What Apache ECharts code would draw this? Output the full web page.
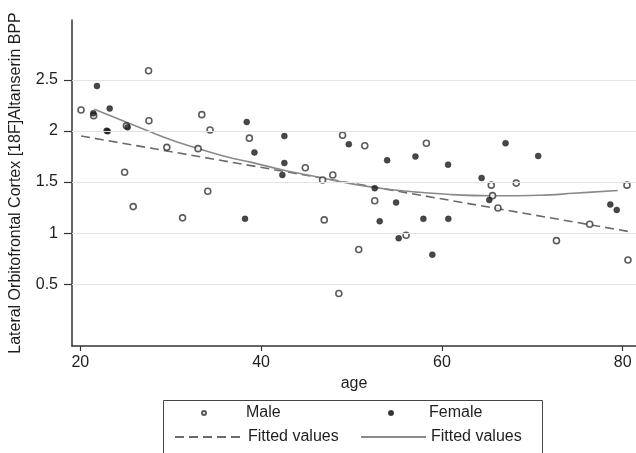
<!DOCTYPE html>
<html>
<head>
<meta charset="utf-8">
<script src="https://cdn.jsdelivr.net/npm/echarts@6/dist/echarts.min.js"></script>
<style>html,body{margin:0;padding:0;background:#fff;}#c{width:636px;height:453px;}</style>
</head>
<body>
<div id="c"></div>
<script>
// ---- data ----
const maleAge = [20.08,21.48,25.1,27.55,27.59,24.90,29.57,33.03,33.44,34.35,34.10,38.70,25.85,31.31,44.89,46.80,47.93,49.01,51.47,58.28,52.57,46.98,56.04,50.80,48.60,65.46,68.22,80.47,65.60,66.20,76.35,72.67,80.58];
const maleBPP = [2.205,2.15,2.05,2.59,2.10,1.596,1.84,1.827,2.16,2.01,1.41,1.93,1.26,1.15,1.64,1.52,1.57,1.958,1.856,1.88,1.318,1.13,0.98,0.84,0.41,1.47,1.49,1.47,1.367,1.247,1.087,0.927,0.738];
const femaleAge = [21.84,21.44,23.25,22.91,23.03,25.23,38.41,39.26,38.22,42.57,42.57,42.35,49.70,53.94,52.57,57.07,60.68,54.93,53.12,57.95,60.71,55.22,58.94,67.04,70.65,64.39,65.24,78.63,79.34];
const femaleBPP = [2.44,2.173,2.22,2.003,1.997,2.036,2.088,1.79,1.14,1.95,1.687,1.57,1.87,1.713,1.44,1.75,1.67,1.30,1.116,1.14,1.14,0.95,0.79,1.88,1.755,1.54,1.325,1.28,1.227];
const linFitAge = [20.08,80.62];
const linFitBPP = [1.951,1.017];
const quadFitAge = [21.55,27.44,30.01,32.96,36.27,38.85,42.52,46.21,49.89,53.57,57.25,60.93,65.35,70.87,74.54,79.45];
const quadFitBPP = [2.212,2.003,1.915,1.83,1.745,1.695,1.615,1.55,1.485,1.435,1.402,1.378,1.366,1.371,1.39,1.418];
const xTicks = [20,40,60,80];
const yTicks = [0.5,1,1.5,2,2.5];

const zip = (a,b)=>a.map((v,i)=>[v,b[i]]);
const FONT = '"Liberation Sans", Arial, sans-serif';
const TXT = '#1e1e1e';
const FS = 16;

const chart = echarts.init(document.getElementById('c'), null, {renderer:'canvas'});
const legendBase = {orient:'horizontal', padding:0, itemGap:0, textStyle:{fontSize:FS, color:TXT, fontFamily:FONT}, selectedMode:false};
chart.setOption({
  animation:false,
  backgroundColor:'#fff',
  grid:{left:71, right:0, top:20, bottom:107, containLabel:false},
  xAxis:{
    type:'value', min:19.08, max:81.47,
    name:'age', nameLocation:'middle', nameGap:30,
    nameTextStyle:{fontSize:FS, color:TXT, fontFamily:FONT},
    axisLine:{show:true, onZero:false, lineStyle:{color:'#333', width:1.5}},
    axisTick:{show:true, length:5, customValues:xTicks, lineStyle:{color:'#333', width:1.2}},
    axisLabel:{customValues:xTicks, fontSize:FS, color:TXT, fontFamily:FONT, margin:9},
    splitLine:{show:false}
  },
  yAxis:{
    type:'value', min:-0.104, max:3.086,
    name:'Lateral Orbitofrontal Cortex [18F]Altanserin BPP', nameLocation:'middle', nameGap:48,
    nameTextStyle:{fontSize:FS, color:TXT, fontFamily:FONT},
    axisLine:{show:true, onZero:false, lineStyle:{color:'#333', width:1.5}},
    axisTick:{show:true, length:8, customValues:yTicks, lineStyle:{color:'#333', width:1.2}},
    axisLabel:{customValues:yTicks, fontSize:FS, color:TXT, fontFamily:FONT, margin:14},
    splitLine:{show:false}
  },
  legend:[
    Object.assign({}, legendBase, {data:['Male'], left:201, top:405, itemWidth:74, itemHeight:4}),
    Object.assign({}, legendBase, {data:['Female'], left:388, top:405, itemWidth:66, itemHeight:4}),
    Object.assign({}, legendBase, {data:['Fitted values'], left:174, top:429, itemWidth:68, itemHeight:10, itemStyle:{opacity:0}}),
    Object.assign({}, legendBase, {data:['Fitted values\u200b'], left:360, top:429, itemWidth:65, itemHeight:10, itemStyle:{opacity:0}})
  ],
  graphic:[{type:'rect', shape:{x:163.5, y:400.5, width:379, height:70}, style:{fill:'none', stroke:'#444', lineWidth:1}, silent:true}],
  series:[
    {type:'line', data:[], z:1, silent:true,
     markLine:{silent:true, symbol:'none', label:{show:false},
       lineStyle:{color:'#e4e4e4', width:1, type:'solid'},
       data: yTicks.map(v=>({yAxis:v}))}},
    {name:'Fitted values', type:'line', data:zip(linFitAge, linFitBPP), symbol:'none', z:3,
     lineStyle:{color:'#6a6a6a', width:1.6, type:[9,5]}, itemStyle:{color:'#6a6a6a'}},
    {name:'Fitted values\u200b', type:'line', data:zip(quadFitAge, quadFitBPP), symbol:'none', smooth:0.4, z:3,
     lineStyle:{color:'#8a8a8a', width:1.6, type:'solid'}, itemStyle:{color:'#8a8a8a'}},
    {name:'Male', type:'scatter', data:zip(maleAge, maleBPP), symbol:'circle', symbolSize:6, z:4,
     itemStyle:{color:'#fff', borderColor:'#333', borderWidth:1.6}},
    {name:'Female', type:'scatter', data:zip(femaleAge, femaleBPP), symbol:'circle', symbolSize:6, z:4,
     itemStyle:{color:'#1a1a1a', borderColor:'#1a1a1a', borderWidth:0.5}}
  ]
});
</script>
</body>
</html>
